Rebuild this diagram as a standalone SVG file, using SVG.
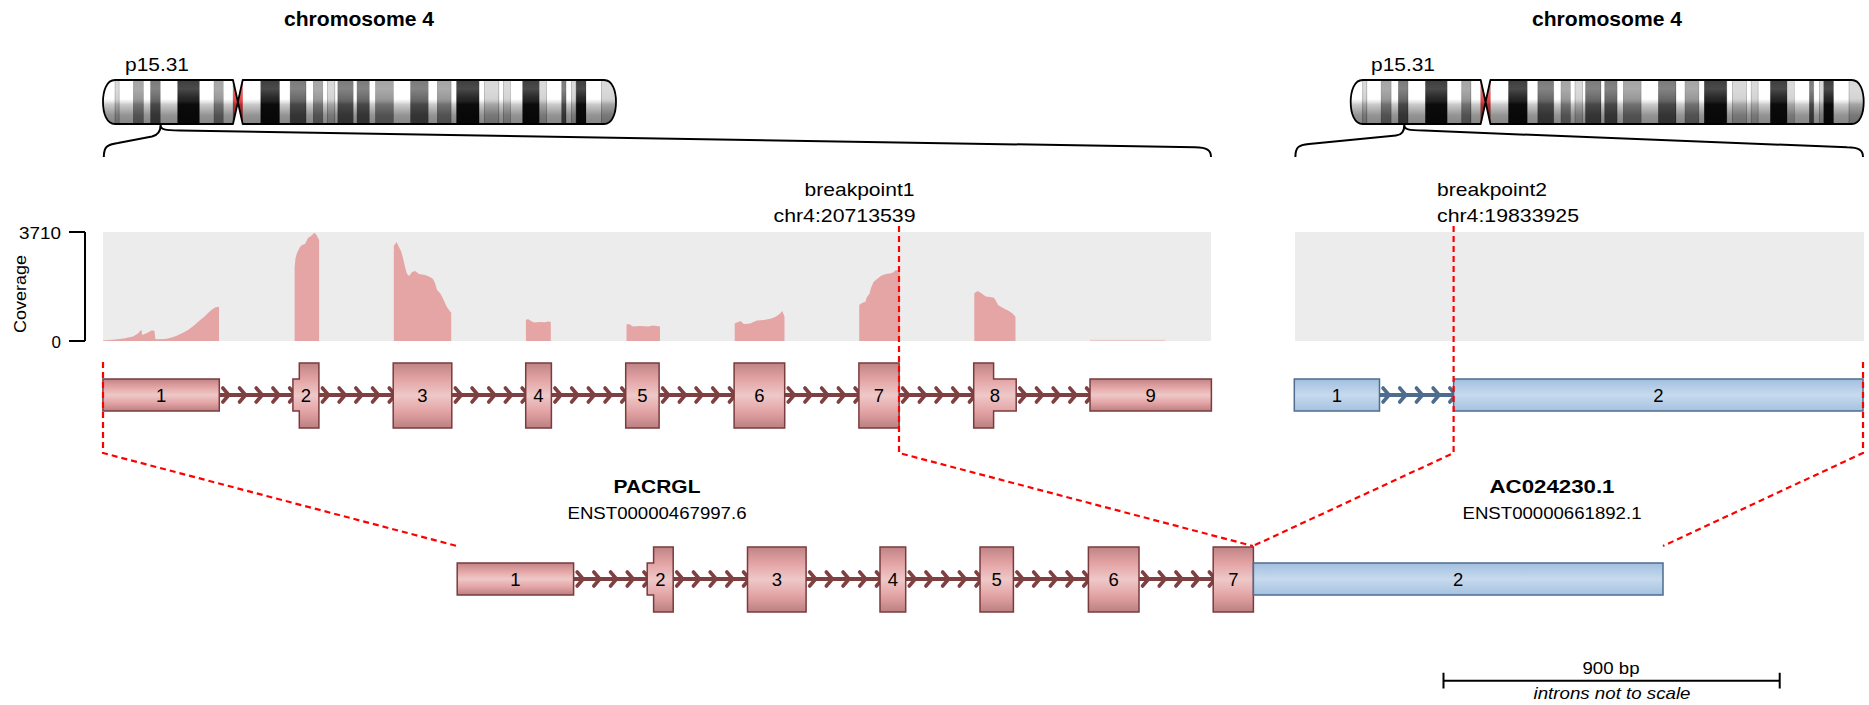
<svg xmlns="http://www.w3.org/2000/svg" xmlns:xlink="http://www.w3.org/1999/xlink" width="1869" height="705" viewBox="0 0 1869 705">
  <style>
    .t { font-family: "Liberation Sans", Arial, Helvetica, sans-serif; fill: #000; }
    .b { font-weight: bold; }
    .mid { text-anchor: middle; }
    .end { text-anchor: end; }
    .en { font-family: "Liberation Sans", Arial, sans-serif; font-size: 18.5px; text-anchor: middle; fill: #000; }
    .ex { fill: url(#gRed); stroke: #7a3b3d; stroke-width: 1.5; }
    .exb { fill: url(#gBlue); stroke: #4d6c8e; stroke-width: 1.5; }
    .intr { stroke: #7f4042; stroke-width: 4; }
    .intrb { stroke: #4d6c8e; stroke-width: 4; }
    .chev { fill: none; stroke-width: 3.6; stroke-linecap: round; stroke-linejoin: round; }
    .cr { stroke: #7f4042; }
    .cb { stroke: #4d6c8e; }
    .dash { fill: none; stroke: #ff0000; stroke-width: 2.2; stroke-dasharray: 6 4; }
    .brace { fill: none; stroke: #000; stroke-width: 2; }
    .cov { fill: #e5a5a5; }
    .bg { fill: #ececec; }
    .ax { fill: none; stroke: #000; stroke-width: 2; }
    .gneg { fill: #ffffff; }
    .g25 { fill: #cfcfcf; }
    .g50 { fill: #8e8e8e; }
    .g75 { fill: #5a5a5a; }
    .g100 { fill: #0e0e0e; }
    .acen { fill: #e8393b; }
    .band rect { stroke: #000; stroke-opacity: 0.3; stroke-width: 0.6; }
  </style>
  <defs>
    <linearGradient id="gRed" x1="0" y1="0" x2="0" y2="1">
      <stop offset="0" stop-color="#c08486"/>
      <stop offset="0.25" stop-color="#e3a3a4"/>
      <stop offset="0.5" stop-color="#efc8c8"/>
      <stop offset="0.75" stop-color="#e3a3a4"/>
      <stop offset="1" stop-color="#bb8082"/>
    </linearGradient>
    <linearGradient id="gBlue" x1="0" y1="0" x2="0" y2="1">
      <stop offset="0" stop-color="#a2bfdf"/>
      <stop offset="0.5" stop-color="#c7daee"/>
      <stop offset="1" stop-color="#a5c1e0"/>
    </linearGradient>
    <linearGradient id="chrShade" x1="0" y1="0" x2="0" y2="1">
      <stop offset="0" stop-color="#fff" stop-opacity="0.2"/>
      <stop offset="0.2" stop-color="#fff" stop-opacity="0.25"/>
      <stop offset="0.42" stop-color="#fff" stop-opacity="0.1"/>
      <stop offset="0.55" stop-color="#000" stop-opacity="0.2"/>
      <stop offset="0.8" stop-color="#000" stop-opacity="0.42"/>
      <stop offset="1" stop-color="#000" stop-opacity="0.48"/>
    </linearGradient>
    <clipPath id="chrClip">
      <path d="M115,80 L233,80 L237.9,102 L233,124 L115,124 C106.5,124 103,113 103,102 C103,91 106.5,80 115,80 Z M242.7,80 L604,80 C612.5,80 616,91 616,102 C616,113 612.5,124 604,124 L242.7,124 L237.9,102 Z"/>
    </clipPath>
    <!-- chromosome 4 ideogram (hg38 bands), 2.697 px per Mb -->
    <g id="chr4Ideogram">
      <g clip-path="url(#chrClip)">
        <g class="band">
          <rect class="gneg" x="103" y="80" width="12.1" height="44"/>
          <rect class="g25" x="115.1" y="80" width="4.1" height="44"/>
          <rect class="gneg" x="119.2" y="80" width="14.3" height="44"/>
          <rect class="g50" x="133.5" y="80" width="10" height="44"/>
          <rect class="gneg" x="143.5" y="80" width="7.2" height="44"/>
          <rect class="g75" x="150.7" y="80" width="9.7" height="44"/>
          <rect class="gneg" x="160.4" y="80" width="17.3" height="44"/>
          <rect class="g100" x="177.7" y="80" width="21.9" height="44"/>
          <rect class="gneg" x="199.6" y="80" width="14.5" height="44"/>
          <rect class="g50" x="214.1" y="80" width="9.2" height="44"/>
          <rect class="gneg" x="223.3" y="80" width="9.7" height="44"/>
          <rect class="gneg" x="242.7" y="80" width="18.1" height="44"/>
          <rect class="g100" x="260.8" y="80" width="18.9" height="44"/>
          <rect class="gneg" x="279.7" y="80" width="10.5" height="44"/>
          <rect class="g75" x="290.2" y="80" width="15.9" height="44"/>
          <rect class="gneg" x="306.1" y="80" width="7.3" height="44"/>
          <rect class="g50" x="313.4" y="80" width="9.4" height="44"/>
          <rect class="gneg" x="322.8" y="80" width="4.6" height="44"/>
          <rect class="g25" x="327.4" y="80" width="7.5" height="44"/>
          <rect class="gneg" x="334.9" y="80" width="3" height="44"/>
          <rect class="g75" x="337.9" y="80" width="15.4" height="44"/>
          <rect class="gneg" x="353.3" y="80" width="3.8" height="44"/>
          <rect class="g75" x="357.1" y="80" width="12.4" height="44"/>
          <rect class="gneg" x="369.5" y="80" width="6.2" height="44"/>
          <rect class="g50" x="375.7" y="80" width="17.8" height="44"/>
          <rect class="gneg" x="393.5" y="80" width="17.2" height="44"/>
          <rect class="g75" x="410.7" y="80" width="17.6" height="44"/>
          <rect class="gneg" x="428.3" y="80" width="9.1" height="44"/>
          <rect class="g50" x="437.4" y="80" width="13.8" height="44"/>
          <rect class="gneg" x="451.2" y="80" width="5.4" height="44"/>
          <rect class="g100" x="456.6" y="80" width="22.6" height="44"/>
          <rect class="gneg" x="479.2" y="80" width="5.4" height="44"/>
          <rect class="g25" x="484.6" y="80" width="14.3" height="44"/>
          <rect class="gneg" x="498.9" y="80" width="4.6" height="44"/>
          <rect class="g25" x="503.5" y="80" width="7" height="44"/>
          <rect class="gneg" x="510.5" y="80" width="12.2" height="44"/>
          <rect class="g100" x="522.7" y="80" width="16.7" height="44"/>
          <rect class="g25" x="539.4" y="80" width="7.2" height="44"/>
          <rect class="gneg" x="546.6" y="80" width="15.2" height="44"/>
          <rect class="g75" x="561.8" y="80" width="4.3" height="44"/>
          <rect class="gneg" x="566.1" y="80" width="5.6" height="44"/>
          <rect class="g25" x="571.7" y="80" width="4.4" height="44"/>
          <rect class="g100" x="576.1" y="80" width="9.9" height="44"/>
          <rect class="gneg" x="586" y="80" width="15.4" height="44"/>
          <rect class="g25" x="601.4" y="80" width="14.6" height="44"/>
        </g>
        <rect class="acen" x="233" y="80" width="9.7" height="44"/>
        <rect x="100" y="80" width="520" height="44" fill="url(#chrShade)"/>
      </g>
      <path d="M115,80 L233,80 L237.9,102 L233,124 L115,124 C106.5,124 103,113 103,102 C103,91 106.5,80 115,80 Z M242.7,80 L604,80 C612.5,80 616,91 616,102 C616,113 612.5,124 604,124 L242.7,124 L237.9,102 Z" fill="none" stroke="#000" stroke-width="1.8" stroke-linejoin="round"/>
    </g>
    <!-- five strand chevrons along one intron, offsets from the intron start -->
    <g id="chevrons" class="chev">
      <path d="M3.5,-7 L9.5,0 L3.5,7"/>
      <path d="M20.2,-7 L26.2,0 L20.2,7"/>
      <path d="M36.9,-7 L42.9,0 L36.9,7"/>
      <path d="M53.6,-7 L59.6,0 L53.6,7"/>
      <path d="M70.3,-7 L76.3,0 L70.3,7"/>
    </g>
  </defs>

  <rect width="1869" height="705" fill="#fff"/>

  <!-- chromosome ideograms -->
  <g id="chromosome-left">
    <text class="t b mid" x="359" y="26" font-size="20" textLength="150" lengthAdjust="spacingAndGlyphs">chromosome 4</text>
    <text class="t" x="125" y="71" font-size="19" textLength="64" lengthAdjust="spacingAndGlyphs">p15.31</text>
    <use xlink:href="#chr4Ideogram"/>
  </g>
  <g id="chromosome-right">
    <text class="t b mid" x="1607" y="26" font-size="20" textLength="150" lengthAdjust="spacingAndGlyphs">chromosome 4</text>
    <text class="t" x="1371" y="71" font-size="19" textLength="64" lengthAdjust="spacingAndGlyphs">p15.31</text>
    <use xlink:href="#chr4Ideogram" transform="translate(1247.7,0)"/>
  </g>

  <!-- coverage tracks -->
  <g id="coverage-left">
    <rect class="bg" x="103" y="232" width="1108" height="109"/>
    <path class="cov" d="M103,341 L103,340.5 L115,339.6 L125,338.3 L133,336.5 L138,333.5 L140.5,330.5 L141.5,330 L142.2,335 L147,333 L152,330.3 L154.5,331 L155.4,339.2 L165,339 L170,338 L176,336 L182,333.3 L188,330 L194,325.5 L199,321 L204,317 L208,313 L212,309.5 L215,307.5 L219,306.7 L219,341 Z"/>
    <path class="cov" d="M294.6,341 L294.6,268 L295.5,258 L297,253 L300,247 L302,245 L305,244 L308,238 L311,236 L314.4,232.7 L316.5,235 L319.1,240 L319.1,341 Z"/>
    <path class="cov" d="M393.8,341 L393.8,246 L396.6,242 L398,245 L401.3,251.7 L403,258 L405.3,268 L407,274 L409.3,276 L412,272 L415,271 L419,274 L425,275 L430,277 L433,279 L435,283 L437,290 L440,293 L442.9,298.3 L445,303 L446.8,306.7 L449,310 L451.2,312.7 L451.2,341 Z"/>
    <path class="cov" d="M525.9,341 L525.9,320 L528,319 L531,321 L534,322.5 L540,322 L545,322.3 L548,321.6 L550.8,322 L550.8,341 Z"/>
    <path class="cov" d="M626.5,341 L626.5,324.5 L629,324 L633,326.5 L640,326 L648,326.5 L653,325.5 L657,326 L660,326.5 L660,341 Z"/>
    <path class="cov" d="M734.7,341 L734.7,323.5 L738,322 L740.8,321 L743,323.5 L745,324 L750,323.5 L757,320.5 L764,320 L771.4,318.5 L776,316.5 L779.6,314 L782.4,311 L784.5,316.7 L784.5,341 Z"/>
    <path class="cov" d="M859.2,341 L859.2,305 L862,303 L865.3,301.7 L867,297 L869.4,294 L871,288 L873.5,282 L877,279 L881.6,275.5 L886,274 L889.8,273.5 L893,272.5 L895.9,270 L898,270.5 L900,271.7 L900,341 Z"/>
    <path class="cov" d="M974.3,341 L974.3,293.3 L977.6,291 L981,293 L985.7,296.5 L990,297 L993.9,297.7 L996,301 L998,305 L1003,308 L1008,310.5 L1012,313 L1015.5,316.7 L1015.5,341 Z"/>
    <rect class="cov" x="1090" y="339.8" width="75" height="1.2" opacity="0.5"/>
    <path class="ax" d="M85,232 V341 M69,232 H85 M69,341 H85"/>
    <text class="t end" x="61" y="238.5" font-size="17" textLength="42" lengthAdjust="spacingAndGlyphs">3710</text>
    <text class="t end" x="61" y="347.5" font-size="17">0</text>
    <text class="t mid" transform="translate(26,294) rotate(-90)" font-size="17" textLength="78" lengthAdjust="spacingAndGlyphs">Coverage</text>
  </g>
  <g id="coverage-right">
    <rect class="bg" x="1295" y="232" width="569" height="109"/>
  </g>

  <!-- PACRGL transcript (top) -->
  <g id="gene-PACRGL">
    <path class="intr" d="M219.3,395 H1090"/>
    <use xlink:href="#chevrons" class="cr" x="219.3" y="395"/>
    <use xlink:href="#chevrons" class="cr" x="318.9" y="395"/>
    <use xlink:href="#chevrons" class="cr" x="451.8" y="395"/>
    <use xlink:href="#chevrons" class="cr" x="551.4" y="395"/>
    <use xlink:href="#chevrons" class="cr" x="659.1" y="395"/>
    <use xlink:href="#chevrons" class="cr" x="784.7" y="395"/>
    <use xlink:href="#chevrons" class="cr" x="899.1" y="395"/>
    <use xlink:href="#chevrons" class="cr" x="1016.2" y="395"/>
    <g id="PACRGL-exon1"><rect class="ex" x="102.9" y="379" width="116.4" height="32"/><text class="en" x="161.1" y="401.5">1</text></g>
    <g id="PACRGL-exon2"><path class="ex" d="M292.9,379 H299.3 V363 H318.9 V428 H299.3 V411 H292.9 Z"/><text class="en" x="306" y="401.5">2</text></g>
    <g id="PACRGL-exon3"><rect class="ex" x="393.2" y="363" width="58.6" height="65"/><text class="en" x="422.5" y="401.5">3</text></g>
    <g id="PACRGL-exon4"><rect class="ex" x="525.7" y="363" width="25.7" height="65"/><text class="en" x="538.5" y="401.5">4</text></g>
    <g id="PACRGL-exon5"><rect class="ex" x="625.7" y="363" width="33.4" height="65"/><text class="en" x="642.4" y="401.5">5</text></g>
    <g id="PACRGL-exon6"><rect class="ex" x="734.1" y="363" width="50.6" height="65"/><text class="en" x="759.4" y="401.5">6</text></g>
    <g id="PACRGL-exon7"><rect class="ex" x="858.9" y="363" width="40.2" height="65"/><text class="en" x="879" y="401.5">7</text></g>
    <g id="PACRGL-exon8"><path class="ex" d="M973.7,363 H993.6 V379 H1016.2 V411 H993.6 V428 H973.7 Z"/><text class="en" x="995" y="401.5">8</text></g>
    <g id="PACRGL-exon9"><rect class="ex" x="1090" y="379" width="121.4" height="32"/><text class="en" x="1150.7" y="401.5">9</text></g>
  </g>

  <!-- AC024230.1 transcript (top) -->
  <g id="gene-AC024230">
    <path class="intrb" d="M1379.5,395 H1453.6"/>
    <use xlink:href="#chevrons" class="cb" x="1379.5" y="395"/>
    <g id="AC024230-exon1"><rect class="exb" x="1294.3" y="379" width="85.2" height="32"/><text class="en" x="1336.9" y="401.5">1</text></g>
    <g id="AC024230-exon2"><rect class="exb" x="1453.6" y="379" width="409.4" height="32"/><text class="en" x="1658.3" y="401.5">2</text></g>
  </g>

  <!-- fused transcript (bottom) -->
  <g id="fusion-transcript">
    <g transform="translate(354.3,184)">
      <path class="intr" d="M219.3,395 H858.9"/>
      <use xlink:href="#chevrons" class="cr" x="219.3" y="395"/>
      <use xlink:href="#chevrons" class="cr" x="318.9" y="395"/>
      <use xlink:href="#chevrons" class="cr" x="451.8" y="395"/>
      <use xlink:href="#chevrons" class="cr" x="551.4" y="395"/>
      <use xlink:href="#chevrons" class="cr" x="659.1" y="395"/>
      <use xlink:href="#chevrons" class="cr" x="784.7" y="395"/>
      <g id="fusion-exon1"><rect class="ex" x="102.9" y="379" width="116.4" height="32"/><text class="en" x="161.1" y="401.5">1</text></g>
      <g id="fusion-exon2"><path class="ex" d="M292.9,379 H299.3 V363 H318.9 V428 H299.3 V411 H292.9 Z"/><text class="en" x="306" y="401.5">2</text></g>
      <g id="fusion-exon3"><rect class="ex" x="393.2" y="363" width="58.6" height="65"/><text class="en" x="422.5" y="401.5">3</text></g>
      <g id="fusion-exon4"><rect class="ex" x="525.7" y="363" width="25.7" height="65"/><text class="en" x="538.5" y="401.5">4</text></g>
      <g id="fusion-exon5"><rect class="ex" x="625.7" y="363" width="33.4" height="65"/><text class="en" x="642.4" y="401.5">5</text></g>
      <g id="fusion-exon6"><rect class="ex" x="734.1" y="363" width="50.6" height="65"/><text class="en" x="759.4" y="401.5">6</text></g>
      <g id="fusion-exon7"><rect class="ex" x="858.9" y="363" width="40.2" height="65"/><text class="en" x="879" y="401.5">7</text></g>
      <g id="fusion-exon-b2"><rect class="exb" x="899.1" y="379" width="409.6" height="32"/><text class="en" x="1103.9" y="401.5">2</text></g>
    </g>
  </g>

  <!-- gene labels -->
  <g id="label-PACRGL">
    <text class="t b mid" x="657" y="493" font-size="19" textLength="87" lengthAdjust="spacingAndGlyphs">PACRGL</text>
    <text class="t mid" x="657" y="519" font-size="17" textLength="179" lengthAdjust="spacingAndGlyphs">ENST00000467997.6</text>
  </g>
  <g id="label-AC024230">
    <text class="t b mid" x="1552" y="493" font-size="19" textLength="125" lengthAdjust="spacingAndGlyphs">AC024230.1</text>
    <text class="t mid" x="1552" y="519" font-size="17" textLength="179" lengthAdjust="spacingAndGlyphs">ENST00000661892.1</text>
  </g>

  <!-- breakpoint labels -->
  <g id="label-breakpoint1">
    <text class="t end" x="914.5" y="196" font-size="19" textLength="110" lengthAdjust="spacingAndGlyphs">breakpoint1</text>
    <text class="t end" x="915.5" y="222" font-size="19" textLength="142" lengthAdjust="spacingAndGlyphs">chr4:20713539</text>
  </g>
  <g id="label-breakpoint2">
    <text class="t" x="1437" y="196" font-size="19" textLength="110" lengthAdjust="spacingAndGlyphs">breakpoint2</text>
    <text class="t" x="1437" y="222" font-size="19" textLength="142" lengthAdjust="spacingAndGlyphs">chr4:19833925</text>
  </g>

  <!-- scale bar -->
  <g id="scale-bar">
    <path class="ax" d="M1443.5,680.7 H1779.7 M1443.5,672.7 V688.5 M1779.7,672.7 V688.5"/>
    <text class="t mid" x="1611" y="674" font-size="17" textLength="57" lengthAdjust="spacingAndGlyphs">900 bp</text>
    <text class="t mid" x="1612" y="698.5" font-size="17" font-style="italic" textLength="157" lengthAdjust="spacingAndGlyphs">introns not to scale</text>
  </g>

  <!-- connectors: zoom braces and breakpoint guide lines -->
  <g id="connectors">
    <path class="brace" d="M103.8,157 C103.8,147 107,144.5 118,143 L152,136.5 C158.5,135 160.6,131 160.6,125 C160.6,129.5 164,130.3 180,130.6 L1195,147.3 C1207,147.5 1211,150 1211,157"/>
    <path class="brace" d="M1295.4,157 C1295.4,147 1298.5,145 1309,144 L1396,135.5 C1402,135 1404.3,131 1404.3,125 C1404.3,129.5 1408,130.3 1424,130.6 L1847,147.3 C1859,147.5 1863,150 1863,157"/>
    <path class="dash" d="M103,362 V453 L457,546"/>
    <path class="dash" d="M899,226 V453 L1253,546"/>
    <path class="dash" d="M1453.6,226 V453 L1253,546"/>
    <path class="dash" d="M1863,362 V453 L1663,546"/>
  </g>
</svg>
